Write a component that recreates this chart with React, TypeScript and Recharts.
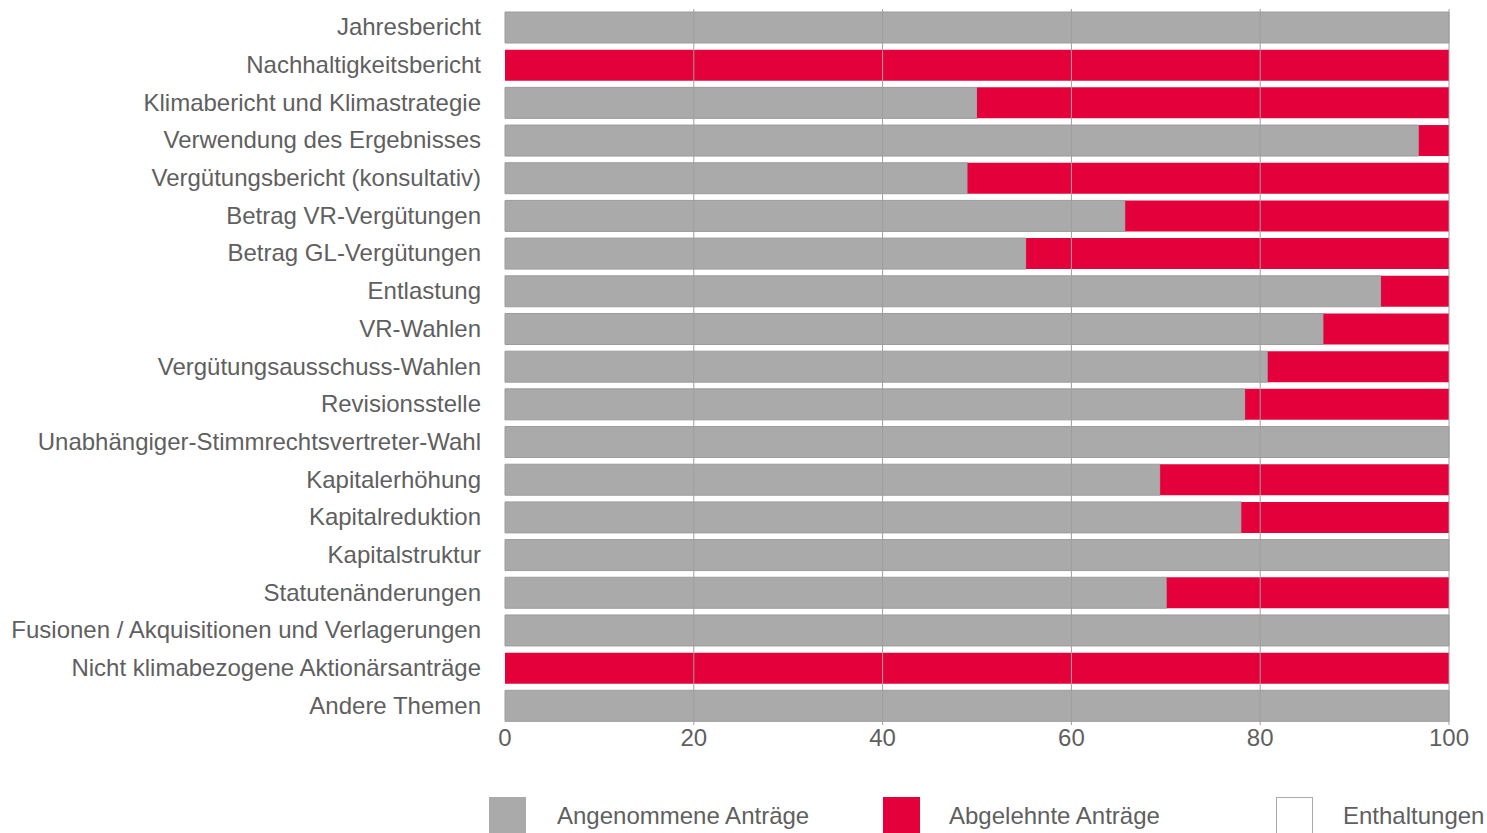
import React from "react";
import {
  BarChart,
  Bar,
  XAxis,
  YAxis,
  ReferenceLine,
  Legend,
} from "recharts";

const TOPICS = [
  "Jahresbericht",
  "Nachhaltigkeitsbericht",
  "Klimabericht und Klimastrategie",
  "Verwendung des Ergebnisses",
  "Vergütungsbericht (konsultativ)",
  "Betrag VR-Vergütungen",
  "Betrag GL-Vergütungen",
  "Entlastung",
  "VR-Wahlen",
  "Vergütungsausschuss-Wahlen",
  "Revisionsstelle",
  "Unabhängiger-Stimmrechtsvertreter-Wahl",
  "Kapitalerhöhung",
  "Kapitalreduktion",
  "Kapitalstruktur",
  "Statutenänderungen",
  "Fusionen / Akquisitionen und Verlagerungen",
  "Nicht klimabezogene Aktionärsanträge",
  "Andere Themen",
];

const ANGENOMMEN = [100, 0, 50, 96.8, 49, 65.7, 55.2, 92.8, 86.7, 80.8, 78.4, 100, 69.4, 78, 100, 70.1, 100, 0, 100];
const ABGELEHNT = [0, 100, 50, 3.2, 51, 34.3, 44.8, 7.2, 13.3, 19.2, 21.6, 0, 30.6, 22, 0, 29.9, 0, 100, 0];
const ENTHALTUNGEN = [0, 0, 0, 0, 0, 0, 0, 0, 0, 0, 0, 0, 0, 0, 0, 0, 0, 0, 0];

const X_TICKS = [0, 20, 40, 60, 80, 100];

const GRAY = "#aaaaaa";
const RED = "#e4003a";
const TEXT = "#5f5f5f";
const FONT = "'Liberation Sans', Arial, sans-serif";

const data = TOPICS.map((name, i) => ({
  name,
  angenommen: ANGENOMMEN[i],
  abgelehnt: ABGELEHNT[i],
  enthaltungen: ENTHALTUNGEN[i],
}));

const LEGEND_ITEMS = [
  { label: "Angenommene Anträge", fill: GRAY, border: GRAY, left: 489, textLeft: 557 },
  { label: "Abgelehnte Anträge", fill: RED, border: RED, left: 883, textLeft: 949 },
  { label: "Enthaltungen", fill: "#ffffff", border: "#aaaaaa", left: 1276, textLeft: 1343 },
];

function ChartLegend() {
  return (
    <div style={{ position: "relative", height: 78, width: 1487 }}>
      {LEGEND_ITEMS.map((it) => (
        <React.Fragment key={it.label}>
          <div
            style={{
              position: "absolute",
              left: it.left,
              top: 42,
              width: 37,
              height: 37,
              boxSizing: "border-box",
              background: it.fill,
              border: `1px solid ${it.border}`,
            }}
          />
          <div
            style={{
              position: "absolute",
              left: it.textLeft,
              top: 47,
              fontSize: 24,
              lineHeight: "28px",
              color: TEXT,
              fontFamily: FONT,
              whiteSpace: "nowrap",
            }}
          >
            {it.label}
          </div>
        </React.Fragment>
      ))}
    </div>
  );
}

export default function App() {
  return (
    <div style={{ position: "absolute", left: 0, top: 0, fontFamily: FONT }}>
      <BarChart
        width={1487}
        height={833}
        data={data}
        layout="vertical"
        barSize={31}
        margin={{ top: 9, right: 38, left: 0, bottom: 0 }}
      >
        <XAxis
          type="number"
          domain={[0, 100]}
          ticks={X_TICKS}
          axisLine={false}
          tickLine={false}
          tickSize={0}
          tickMargin={4}
          height={30}
          tick={{ fontSize: 24, fill: TEXT }}
        />
        <YAxis
          type="category"
          dataKey="name"
          width={505}
          axisLine={false}
          tickLine={false}
          tickSize={0}
          tickMargin={24}
          interval={0}
          tick={{ fontSize: 24, fill: TEXT, dy: -1 }}
        />
        <Bar dataKey="angenommen" stackId="a" fill={GRAY} stroke="#9c9c9c" strokeWidth={1} isAnimationActive={false} />
        <Bar dataKey="abgelehnt" stackId="a" fill={RED} isAnimationActive={false} />
        <Bar dataKey="enthaltungen" stackId="a" fill="#ffffff" isAnimationActive={false} />
        {X_TICKS.slice(1).map((t) => (
          <ReferenceLine key={t} x={t} stroke="#9e9e9e" strokeWidth={1} />
        ))}
        <Legend verticalAlign="bottom" content={() => <ChartLegend />} wrapperStyle={{ left: 0, width: 1487 }} />
      </BarChart>
    </div>
  );
}
